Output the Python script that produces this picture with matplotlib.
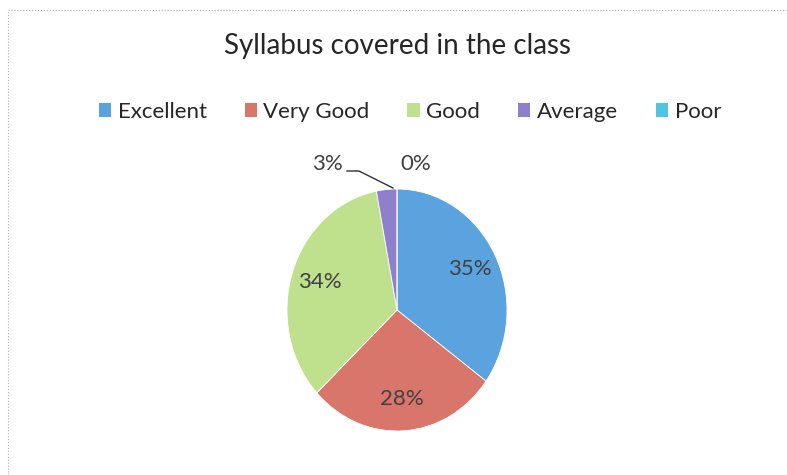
import matplotlib.pyplot as plt
from matplotlib.patches import Patch

plt.rcParams['font.family'] = ['Lato', 'DejaVu Sans']

title = 'Syllabus covered in the class'
categories = ['Excellent', 'Very Good', 'Good', 'Average', 'Poor']
shares = [35, 28, 34, 3, 0]
colors = ['#5ba3df', '#d9766c', '#bfe08c', '#8f7fcc', '#4fc5e3']

W, H = 787, 475
cx, cy = 397, 310      # pie centre in pixels (from top)
rx, ry = 110, 121      # scan is a bit stretched vertically

fig = plt.figure(figsize=(W / 100, H / 100), dpi=100)
ax = fig.add_axes([0, 0, 1, 1])


def pct(p):
    return '%d%%' % round(p) if p >= 5 else ''


wedges, texts, autotexts = ax.pie(shares, colors=colors, startangle=90, counterclock=False,
                                  autopct=pct, pctdistance=0.74,
                                  wedgeprops=dict(edgecolor='white', linewidth=0.6),
                                  textprops=dict(fontsize=16, color='#404040'))
ax.set_aspect('auto')
ax.set_xlim(-cx / rx, (W - cx) / rx)
ax.set_ylim(-(H - cy) / ry, cy / ry)
ax.axis('off')


def px(x, y):
    return (x - cx) / rx, (cy - y) / ry


# small slices labelled outside, like Excel does
ax.text(*px(327, 164), '%d%%' % shares[3], ha='center', va='center',
        fontsize=16, color='#404040')
ax.text(*px(416, 164), '%d%%' % shares[4], ha='center', va='center',
        fontsize=16, color='#404040')
leader = [px(347, 171), px(359, 171), px(393, 188)]
ax.plot([p[0] for p in leader], [p[1] for p in leader], color='#303030', lw=1)

fig.text(398 / W, 1 - 46 / H, title, ha='center', va='center', fontsize=20, color='#262626')

handles = [Patch(facecolor=c, edgecolor='none') for c in colors]
fig.legend(handles, categories, loc='center', bbox_to_anchor=(410 / W, 1 - 112 / H),
           ncol=5, frameon=False, fontsize=16, handlelength=0.55, handleheight=0.55,
           handletextpad=0.3, columnspacing=1.7, labelcolor='#262626')

# faint chart-area frame from the scan
ax.plot([0.01, 1], [0.978, 0.978], transform=fig.transFigure, color='#b0b0b0', lw=0.8, ls=':')
ax.plot([0.01, 0.01], [0, 0.978], transform=fig.transFigure, color='#b0b0b0', lw=0.8, ls=':')

fig.savefig('out.png', dpi=100, facecolor='white')
